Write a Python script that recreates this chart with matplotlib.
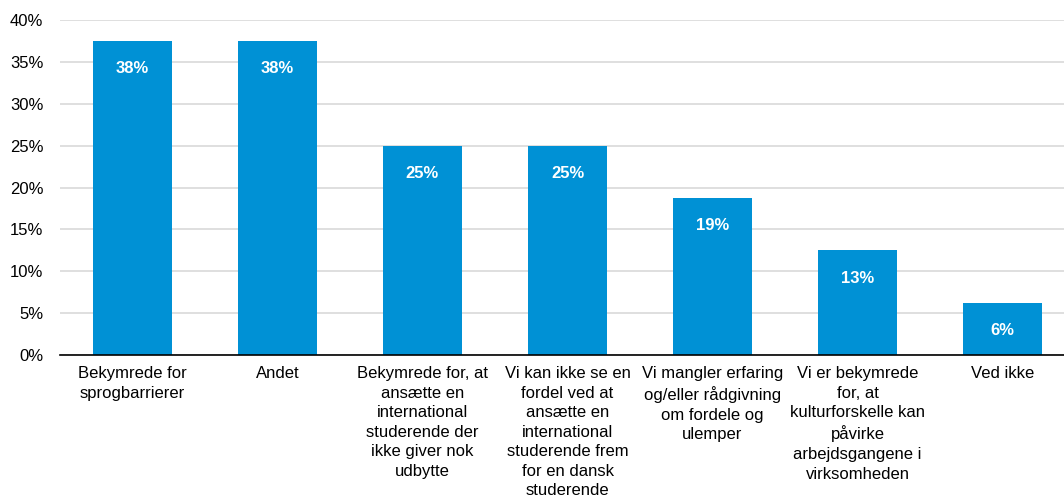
import matplotlib
matplotlib.use("Agg")
import matplotlib.pyplot as plt
from matplotlib.ticker import PercentFormatter

### Data
categories = [
    "Bekymrede for\nsprogbarrierer",
    "Andet",
    "Bekymrede for, at\nansætte en\ninternational\nstuderende der\nikke giver nok\nudbytte",
    "Vi kan ikke se en\nfordel ved at\nansætte en\ninternational\nstuderende frem\nfor en dansk\nstuderende",
    "Vi mangler erfaring\nog/eller rådgivning\nom fordele og\nulemper",
    "Vi er bekymrede\nfor, at\nkulturforskelle kan\npåvirke\narbejdsgangene i\nvirksomheden",
    "Ved ikke",
]
values = [37.5, 37.5, 25.0, 25.0, 18.75, 12.5, 6.25]
value_labels = ["38%", "38%", "25%", "25%", "19%", "13%", "6%"]
yticks = [0, 5, 10, 15, 20, 25, 30, 35, 40]

### Style
plt.rcParams['font.family'] = ['Liberation Sans', 'DejaVu Sans']
bar_color = '#0091D5'

### Plot
fig = plt.figure(figsize=(10.64, 5.01), dpi=100)
ax = fig.add_axes([60/1064, 146/501, 1015/1064, 335/501])

x = range(len(categories))
bars = ax.bar(x, values, width=0.54, color=bar_color, zorder=3)

for b, lab in zip(bars, value_labels):
    ax.annotate(lab, (b.get_x() + b.get_width()/2, b.get_height()),
                xytext=(0, -20), textcoords='offset points',
                ha='center', va='center', color='white',
                fontsize=12, fontweight='bold', zorder=4)

ax.set_xlim(-0.5, len(categories) - 0.5)
ax.set_ylim(0, 40)
ax.set_yticks(yticks)
ax.yaxis.set_major_formatter(PercentFormatter(decimals=0))
ax.set_xticks(list(x))
ax.set_xticklabels(categories, fontsize=12, linespacing=1.38, va='top')
ax.tick_params(axis='y', length=0, labelsize=12, pad=12)
ax.tick_params(axis='x', length=0, pad=8)

ax.grid(axis='y', color='#D9D9D9', linewidth=1.2, zorder=0)
for s in ['top', 'right', 'left']:
    ax.spines[s].set_visible(False)
ax.spines['bottom'].set_color('black')
ax.spines['bottom'].set_linewidth(1.2)
ax.spines['bottom'].set_zorder(5)

fig.savefig("out.png", dpi=100)
